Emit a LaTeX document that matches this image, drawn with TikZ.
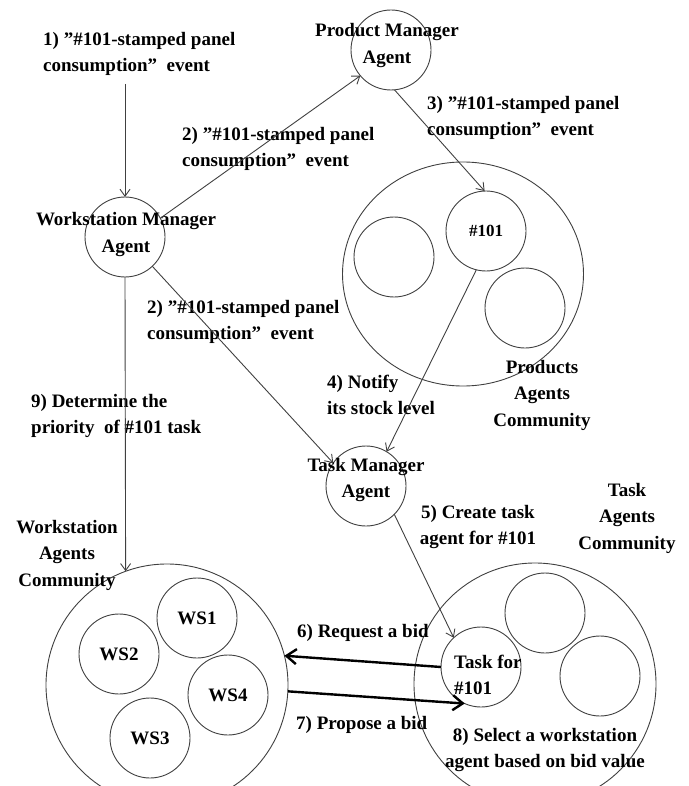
\documentclass[tikz,border=0pt]{standalone}
\usepackage{fontspec}
\setmainfont{Liberation Serif}
\usepackage{tikz}
\usetikzlibrary{arrows.meta, shapes.geometric}
\newcommand{\lblfont}{\fontsize{19}{26.5}\selectfont\bfseries}
\tikzset{
  agent/.style={circle, draw=black!75, line width=0.9pt, minimum size=80pt,
                inner sep=0pt, outer sep=0pt, font=\lblfont},
  community/.style={circle, draw=black!75, line width=0.9pt,
                    minimum size=242pt, inner sep=0pt, outer sep=0pt},
  lbl/.style={inner sep=0pt, font=\lblfont, align=center},
  steplbl/.style={lbl, anchor=west, align=left},
  arrow/.style={-{Straight Barb[length=7pt, width=10pt]}, line width=0.9pt,
                draw=black!75},
  bidarrow/.style={-{Straight Barb[length=10pt, width=15pt]}, line width=2.4pt,
                   draw=black},
}

\begin{document}
\begin{tikzpicture}[x=1pt, y=-1pt]
  \useasboundingbox (0,0) rectangle (688,786);
  \clip (0,0) rectangle (688,786);

  % communities
  \node[community, ellipse, minimum width=241pt, minimum height=224pt]
    (prodcomm) at (463,274) {};
  \node[community] (wscomm) at (167,685) {};
  \node[community] (taskcomm) at (535,684) {};

  % manager agents
  \node[agent] (pm) at (391,50) {};
  \node[agent] (wm) at (125,237) {};
  \node[agent] (tm) at (366,486) {};

  % product agents
  \node[agent, font=\fontsize{17}{20}\selectfont\bfseries] (p101) at (486,231) {\#101};
  \node[agent] (prodA) at (394,257) {};
  \node[agent] (prodB) at (525,308) {};

  % workstation agents
  \node[agent] (ws1) at (197,618) {WS1};
  \node[agent] (ws2) at (119,654) {WS2};
  \node[agent] (ws3) at (150,738) {WS3};
  \node[agent] (ws4) at (228,695) {WS4};

  % task agents
  \node[agent] (task101) at (481,667) {};
  \node[agent] (taskA) at (545,613) {};
  \node[agent] (taskB) at (600,676) {};

  % names
  \node[lbl] (pmname) at (387,45.5) {Product Manager\\Agent};
  \node[lbl] (wmname) at (126,234.5) {Workstation Manager\\Agent};
  \node[lbl] (tmname) at (366,480) {Task Manager\\Agent};
  \node[lbl] (prodname) at (542,395) {Products\\Agents\\Community};
  \node[lbl] (taskname) at (627,518) {Task\\Agents\\Community};
  \node[lbl] (wsname) at (67,555) {Workstation\\Agents\\Community};
  \node[steplbl] (task101name) at (454,675) {Task for\\\#101};

  % message labels
  \node[steplbl] (msg1) at (43,54) {1) ”\#101-stamped panel\\consumption”\ \ event};
  \node[steplbl] (msg2a) at (182,149) {2) ”\#101-stamped panel\\consumption”\ \ event};
  \node[steplbl] (msg3) at (427,118) {3) ”\#101-stamped panel\\consumption”\ \ event};
  \node[steplbl] (msg2b) at (147,322) {2) ”\#101-stamped panel\\consumption”\ \ event};
  \node[steplbl] (msg4) at (327,395) {4) Notify\\its stock level};
  \node[steplbl] (msg9) at (31,416) {9) Determine the\\priority\ \ of \#101 task};
  \node[lbl] (msg5) at (478,527) {5) Create task\\agent for \#101};
  \node[steplbl] (msg6) at (297,633) {6) Request a bid};
  \node[steplbl] (msg7) at (296,725) {7) Propose a bid};
  \node[lbl] (msg8) at (545,750) {8) Select a workstation\\agent based on bid value};

  % messages
  \coordinate (evt) at (125,84);
  \draw[arrow] (evt) -- (wm);
  \draw[arrow] (wm.28) -- (pm.220);
  \draw[arrow] (wm.-47) -- (tm.145);
  \draw[arrow] (pm.-85) -- (p101.92);
  \draw[arrow] (p101.-104) -- (tm.59);
  \draw[arrow] (tm.-45) -- (task101.133);
  \draw[bidarrow] (task101.west) -- (wscomm.14);
  \draw[bidarrow] (wscomm.-3) -- (task101.-114);
  \draw[arrow] (wm.south) -- (wscomm.110);
\end{tikzpicture}
\end{document}
